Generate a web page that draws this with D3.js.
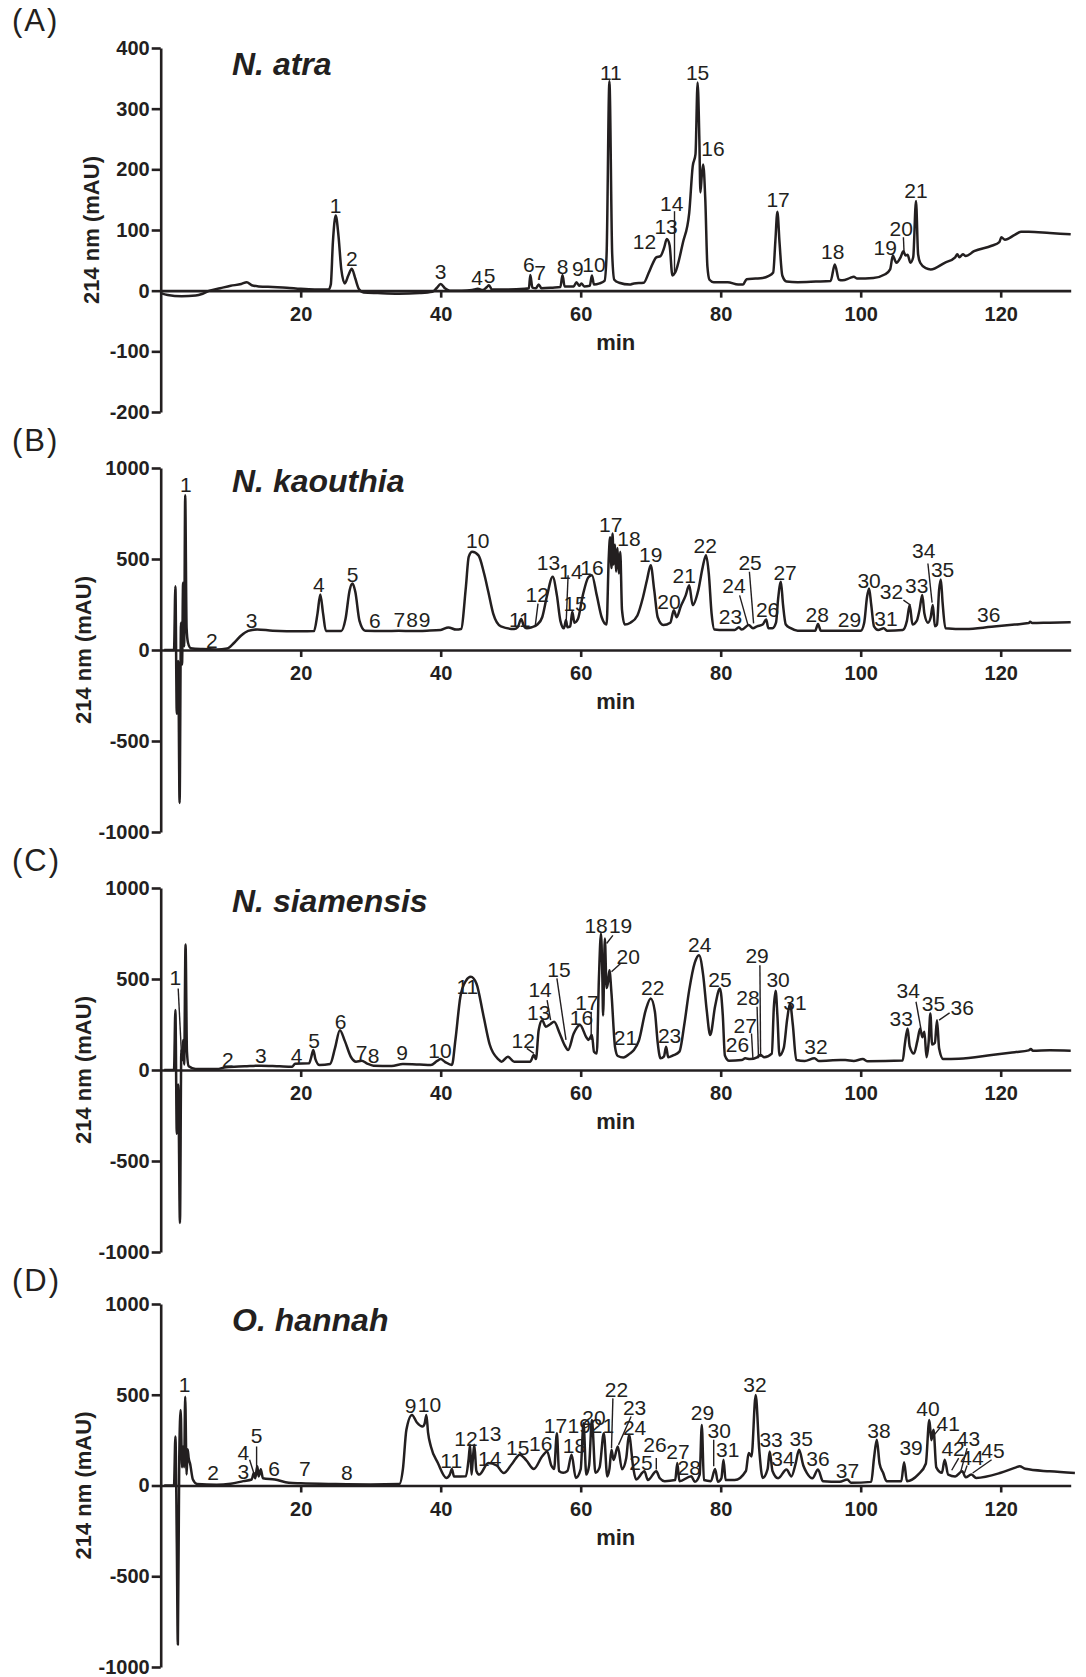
<!DOCTYPE html>
<meta charset="utf-8">
<style>
body { margin: 0; background: #fff; }
svg { display: block; font-family: "Liberation Sans", Arial, sans-serif; }
.axis text { font-weight: bold; font-size: 20px; fill: #231f20; }
.axis line, .axis path { stroke: #231f20; stroke-width: 2.6px; }
.trace { fill: none; stroke: #231f20; stroke-width: 2.5px; stroke-linejoin: round; }
.pk { font-size: 21px; fill: #231f20; text-anchor: middle; }
.lead { stroke: #231f20; stroke-width: 1.4px; }
.title { font-size: 32px; font-weight: bold; font-style: italic; fill: #231f20; }
.ylab, .xlab { font-size: 22px; font-weight: bold; fill: #231f20; text-anchor: middle; }
.letter { font-size: 31px; fill: #231f20; letter-spacing: 2px; }
</style>
<body>
<svg width="1086" height="1677"></svg>
<script src="https://d3js.org/d3.v7.min.js"></script>
<script>
// ---- data (minutes, mAU) ----
var xTicks = [20, 40, 60, 80, 100, 120];
var yTicksA = [-200, -100, 0, 100, 200, 300, 400];
var yTicksBCD = [-1000, -500, 0, 500, 1000];
var letters = ["(A)", "(B)", "(C)", "(D)"];
var species = ["N. atra", "N. kaouthia", "N. siamensis", "O. hannah"];

var traceA = [[0,-4],[1,-7],[3,-9],[5,-8],[6,-5],[7,0],[8.5,4],[10,8],[11.5,11],[12.3,14],[13,9],[14,7],[16,6],[18,5],[20,3],[22,2],[24,2],
 [24.3,10],[24.6,80],[25,124],[25.4,90],[25.8,35],[26.3,12],[26.8,25],[27.3,36],[27.8,20],[28.3,3],[29,-3],[31,-4],[34,-5],[37,-4],[38.8,-2],
 [39.4,4],[40,11],[40.6,4],[41.3,0],[43,0],[44.5,1],[45.3,3],[46,1],[46.6,6],[46.9,9],[47.3,2],[49,2],[52,3],[52.6,4],[52.8,26],[53.1,5],[53.6,4],[54,10],[54.4,4],
 [56,5],[57.1,6],[57.4,26],[57.7,7],[59,7],[59.4,14],[59.8,8],[60.1,12],[60.5,7],[61.3,8],[61.6,25],[61.9,10],[62.7,12],[63.4,16],[63.7,60],[64.1,345],[64.5,60],[64.8,18],
 [65.5,13],[67,10],[67.6,12],[69,13],[69.7,29],[70.3,45],[70.8,55],[71.4,57],[71.9,70],[72.3,85],[72.7,75],[73.1,25],[73.5,30],[74.6,79],[75.5,128],[76,205],[76.4,225],
 [76.7,343],[76.95,250],[77.1,162],[77.3,190],[77.5,208],[77.8,150],[78.1,40],[78.4,18],[79,14],[81,14],[82.5,10],[83.2,10],[83.7,19],[85,20],[86,21],[86.8,24],[87.5,30],
 [87.8,80],[88.1,130],[88.4,80],[88.8,25],[89.4,15],[91,14],[93.6,15],[95.7,16],[96.3,43],[96.9,18],[97.4,17],[98.5,21],[99,23],[99.5,20],[101.8,21],[103.5,27],[104.2,35],
 [104.6,58],[104.9,50],[105.1,46],[105.7,55],[106.1,65],[106.4,58],[106.7,59],[107.1,46],[107.5,55],[107.9,148],[108.2,60],[108.5,46],[109.3,37],[110,35],[112,46],[113.5,55],
 [113.8,60],[114.1,55],[114.6,60],[115,57],[116.2,65],[118.7,74],[119.8,80],[120.1,88],[120.6,84],[122,92],[122.9,97],[124,97],[127,95],[130,93]];

var traceB = [[0.5,0],[1.9,0],[2.1,350],[2.3,-350],[2.5,-60],[2.7,-840],[2.9,150],[3.05,-80],[3.2,370],[3.35,20],[3.5,850],[3.7,120],[3.9,40],[4.3,10],[6,5],[8,3],[9.5,8],
 [10.5,40],[11.5,80],[12.5,105],[13.8,113],[16,106],[20,103],[21.9,104],[22.4,200],[22.8,305],[23.2,200],[23.6,105],[25.8,105],[26.4,170],[27,330],[27.4,365],[27.8,320],
 [28.4,160],[29.2,106],[32,104],[34,106],[36,104],[38,106],[40,110],[41.1,124],[42.2,112],[42.9,115],[43.6,347],[44,512],[44.5,540],[45.4,520],[46.2,420],[46.8,320],
 [47.5,200],[48.6,130],[50.5,115],[51,125],[51.5,170],[51.9,130],[52.3,119],[53,125],[53.8,140],[54.5,180],[55.2,300],[56,402],[56.6,300],[57.1,160],[57.6,119],[57.9,165],
 [58.1,125],[58.5,130],[58.8,210],[59.1,150],[59.6,170],[60.3,300],[61.1,400],[61.6,411],[62.3,300],[63,180],[63.7,140],[64,500],[64.2,620],[64.4,450],[64.55,640],[64.7,470],
 [64.9,580],[65.05,430],[65.25,560],[65.45,420],[65.65,540],[65.9,220],[66.3,140],[67.1,150],[68.1,190],[68.9,290],[69.5,390],[70,466],[70.5,330],[71,180],[71.8,137],
 [72.8,150],[73.3,219],[73.7,180],[74.3,240],[75,300],[75.5,356],[76,247],[76.8,329],[77.4,450],[77.9,521],[78.3,420],[78.7,200],[79.1,113],[80.5,110],[82,110],[82.6,125],
 [83,112],[84,137],[84.6,120],[85.2,130],[86,140],[86.5,168],[86.8,120],[87.4,120],[87.9,150],[88.2,280],[88.6,375],[88.9,250],[89.3,140],[90,120],[91,106],[93.5,106],
 [93.9,143],[94.3,106],[100,106],[100.5,150],[100.9,290],[101.2,338],[101.5,250],[101.9,130],[102.5,110],[103.3,119],[103.8,106],[106,110],[106.6,160],[107,247],[107.4,140],
 [108,160],[108.4,220],[108.8,302],[109.1,200],[109.6,150],[110,180],[110.3,247],[110.6,130],[110.9,140],[111.2,330],[111.45,388],[111.7,260],[112.1,120],[115,115],
 [118.7,128],[122,140],[124,148],[124.2,155],[124.5,148],[127,150],[130,152]];

var traceC = [[0.5,0],[1.9,0],[2.1,330],[2.3,-350],[2.5,-80],[2.75,-840],[2.95,110],[3.05,50],[3.2,165],[3.35,30],[3.55,690],[3.75,100],[4,20],[5,5],[8,5],[9.3,15],[12,20],
 [14.3,24],[17,20],[18.8,18],[19.2,35],[21.2,37],[21.5,70],[21.8,110],[22.1,60],[22.7,27],[24.2,33],[24.9,120],[25.6,219],[26.3,160],[27.2,70],[27.9,46],[28.7,51],[29.5,35],
 [30.4,24],[33,22],[34.6,33],[37,30],[38.6,27],[39.5,50],[40,60],[40.6,45],[41.6,27],[42.1,165],[42.8,400],[43.6,490],[44.3,512],[45.1,475],[46.1,300],[47,140],[48.2,60],
 [48.7,46],[49.6,73],[50.5,45],[52.8,46],[53.3,82],[53.6,60],[54,220],[54.5,274],[55,238],[55.6,250],[56.2,265],[57,201],[57.7,137],[58.2,110],[59,200],[59.9,247],[60.8,180],
 [61.1,165],[61.6,192],[61.9,100],[62.3,90],[62.6,500],[62.9,750],[63.1,500],[63.2,300],[63.45,722],[63.7,450],[63.9,480],[64.1,548],[64.4,420],[64.9,128],[65.3,77],[66.1,69],
 [67,90],[67.6,110],[68.3,160],[69.3,330],[70,393],[70.6,320],[71,150],[71.4,64],[71.9,75],[72.2,128],[72.5,70],[73.2,80],[74.1,101],[74.8,250],[75.5,439],[76.3,590],
 [76.9,631],[77.5,520],[78,329],[78.5,192],[79.2,350],[79.9,448],[80.3,300],[80.6,80],[81.2,51],[83,55],[83.5,64],[84.2,60],[85.2,70],[85.7,82],[86.2,70],[87.3,90],
 [87.6,350],[87.85,435],[88.1,300],[88.4,80],[89,120],[89.5,280],[89.9,366],[90.3,250],[90.8,55],[92,50],[93.4,64],[94,50],[97.1,55],[97.8,55],[99,50],[100.3,60],[101,48],
 [106,52],[106.3,140],[106.7,228],[107,130],[107.6,90],[108.1,160],[108.5,228],[108.8,180],[109.1,210],[109.4,70],[109.7,150],[109.95,311],[110.2,140],[110.6,150],
 [110.9,274],[111.2,120],[111.8,60],[114,62],[118.7,82],[122,98],[124,108],[124.3,115],[124.6,106],[127,108],[130,106]];

var traceD = [[0.5,0],[1.9,0],[2.1,270],[2.3,-314],[2.45,-876],[2.65,150],[2.85,416],[3.05,100],[3.2,215],[3.35,100],[3.5,489],[3.7,60],[3.85,200],[4,150],[4.2,120],
 [4.6,33],[5.2,8],[8,4],[10,10],[11.8,24],[13,33],[13.3,69],[13.5,40],[13.8,106],[14,50],[14.3,90],[14.6,40],[16.3,33],[18.3,15],[20,12],[25,8],[30,6],[34.1,8],[34.6,90],
 [35.1,307],[35.9,389],[36.6,347],[37.4,325],[37.7,340],[37.95,389],[38.2,290],[38.6,215],[39.6,124],[40.8,42],[41.3,60],[41.6,91],[41.9,50],[43.6,51],[44,150],[44.2,224],
 [44.4,60],[44.6,150],[44.8,224],[45.1,80],[45.5,60],[46.8,124],[48,110],[49,69],[50.2,120],[51.3,170],[52.2,140],[53.3,91],[54.5,161],[55.2,188],[55.8,110],[56.2,91],
 [56.6,288],[56.9,80],[57.5,70],[58.1,80],[58.7,170],[59.3,42],[60,90],[60.4,343],[60.8,60],[61.2,110],[61.6,361],[62.1,70],[62.7,100],[63.3,288],[63.8,50],[64.1,90],
 [64.4,197],[64.7,140],[65.3,215],[65.9,90],[66.5,150],[66.9,279],[67.5,100],[67.9,33],[69.1,78],[69.6,30],[70.8,78],[71.3,40],[72,24],[73.5,30],[73.8,124],[74.1,24],
 [75.8,51],[76.3,20],[77,60],[77.3,334],[77.6,30],[78.6,24],[79.2,91],[79.6,20],[80.1,40],[80.4,142],[80.7,30],[82,30],[83.6,80],[84,179],[84.4,160],[85,498],[85.5,200],
 [86,42],[86.7,90],[87,188],[87.4,80],[88.2,40],[89.4,88],[90.1,50],[90.7,120],[91.2,197],[91.8,110],[92.3,70],[93.1,40],[93.9,88],[94.6,24],[97,20],[98.1,33],[98.6,15],
 [101.5,20],[101.9,150],[102.3,252],[102.7,120],[103.2,70],[103.7,24],[105.8,24],[106.2,128],[106.6,24],[108.2,60],[109.3,120],[109.8,361],[110.1,250],[110.4,307],
 [110.8,100],[111.6,70],[112,142],[112.5,60],[113.5,50],[114.5,78],[115,45],[115.8,60],[116.5,42],[120,70],[122.2,100],[122.7,106],[123.5,92],[127,78],[130.6,69]];

// peak labels: [text, minute, mAU of baseline]
var labelsA = [["1",25,128],["2",27.3,40],["3",40,19],["4",45.2,9],["5",47,13],["6",52.6,30],["7",54.2,18],["8",57.4,28],["9",59.6,25],["10",61.9,30],
 ["11",64.3,348],["12",69.1,68],["13",72.2,93],["14",73,132],["15",76.7,348],["16",78.9,222],["17",88.2,138],["18",96,53],["19",103.5,59],["20",105.8,90],["21",107.9,153]];
var labelsB = [["1",3.6,868],["2",7.3,13],["3",13,119],["4",22.6,316],["5",27.4,375],["6",30.6,119],["7",34.1,128],["8",35.9,128],["9",37.7,128],["10",45.3,558],
 ["11",51.3,128],["12",53.8,265],["13",55.4,442],["14",58.6,388],["15",59.2,214],["16",61.6,411],["17",64.3,649],["18",66.9,570],["19",70,484],["20",72.6,228],
 ["21",74.8,366],["22",77.8,534],["23",81.4,143],["24",81.9,311],["25",84.2,439],["26",86.7,183],["27",89.2,384],["28",93.8,155],["29",98.4,128],["30",101.2,338],
 ["31",103.6,133],["32",104.4,280],["33",108,311],["34",109,503],["35",111.7,402],["36",118.3,155]];
var labelsC = [["1",2.1,466],["2",9.6,18],["3",14.3,40],["4",19.4,40],["5",21.9,119],["6",25.7,228],["7",28.7,55],["8",30.4,40],["9",34.5,55],["10",39.9,64],
 ["11",43.8,417],["12",51.8,119],["13",54,274],["14",54.2,402],["15",56.9,512],["16",60.1,247],["17",60.9,329],["18",62.2,753],["19",65.7,753],["20",66.8,581],
 ["21",66.4,137],["22",70.3,411],["23",72.7,146],["24",77,649],["25",79.9,457],["26",82.4,100],["27",83.5,201],["28",83.9,356],["29",85.2,589],["30",88.2,457],
 ["31",90.6,329],["32",93.6,88],["33",105.8,241],["34",106.8,393],["35",110.4,325],["36",114.5,302]];
var labelsD = [["1",3.4,516],["2",7.5,33],["3",11.8,37],["4",11.8,142],["5",13.7,234],["6",16.2,51],["7",20.6,51],["8",26.6,33],["9",35.7,398],["10",38.4,407],
 ["11",41.5,97],["12",43.6,215],["13",47,243],["14",47,106],["15",51,170],["16",54.3,188],["17",56.4,288],["18",59.1,179],["19",59.8,292],["20",61.9,334],
 ["21",63.1,292],["22",65.1,489],["23",67.7,389],["24",67.7,279],["25",68.6,88],["26",70.6,184],["27",73.9,146],["28",75.5,60],["29",77.4,361],["30",79.8,261],
 ["31",81,155],["32",84.9,516],["33",87.2,210],["34",88.9,106],["35",91.5,215],["36",93.9,106],["37",98.1,42],["38",102.6,261],["39",107.2,170],["40",109.6,383],
 ["41",112.5,303],["42",113.2,161],["43",115.4,215],["44",115.9,115],["45",118.9,151]];

// leader lines: [min1, mAU1, min2, mAU2]
var leadersA = [[73.4,131,73.4,29],[106.1,88,106.2,62]];
var leadersB = [[53.9,255,53.5,130],[58.2,411,57.9,128],[82.7,300,83.9,137],[84.1,430,84.7,146],[106.1,274,107.1,247],[109.6,475,110.2,260]];
var leadersC = [[2.5,448,2.95,100],[52.3,119,53.3,91],[55.2,384,55.7,274],[56.6,503,57.9,165],[61.5,320,61.5,165],[64.6,740,63.7,695],[65.7,585,64.4,540],
 [84.4,201,84.6,64],[85.2,347,85.4,64],[85.6,576,85.7,73],[107.9,375,108.6,228],[112.7,314,111.2,274]];
var leadersD = [[12.7,142,13.3,69],[13.7,215,13.7,51],[64.6,480,64.4,206],[67.2,380,65.4,224],[70.8,151,70.8,88],[79,252,79,106],[111.3,316,110.5,279],
 [114,151,113,84],[115.2,206,114.3,78],[115.2,110,114.8,66],[118.7,142,116,69]];

// ---- layout ----
var svg = d3.select("svg");
svg.append("rect").attr("width", 1086).attr("height", 1677).attr("fill", "#fff");

var x = d3.scaleLinear().domain([0, 130]).range([160.7, 1070.7]);

var panels = [
  {top: 48,   bottom: 412,  dom: [-200, 400],   ticks: yTicksA,   trace: traceA, labels: labelsA, leaders: leadersA, ylabX: 99, letterY: 31,   titleY: 75},
  {top: 468,  bottom: 832,  dom: [-1000, 1000], ticks: yTicksBCD, trace: traceB, labels: labelsB, leaders: leadersB, ylabX: 91, letterY: 451,  titleY: 492},
  {top: 888,  bottom: 1252, dom: [-1000, 1000], ticks: yTicksBCD, trace: traceC, labels: labelsC, leaders: leadersC, ylabX: 91, letterY: 871,  titleY: 912},
  {top: 1304, bottom: 1667, dom: [-1000, 1000], ticks: yTicksBCD, trace: traceD, labels: labelsD, leaders: leadersD, ylabX: 91, letterY: 1291, titleY: 1331}
];

panels.forEach(function(p, i) {
  var y = d3.scaleLinear().domain(p.dom).range([p.bottom, p.top]);
  var g = svg.append("g");

  g.append("g")
      .attr("class", "axis")
      .attr("transform", "translate(" + x(0) + ",0)")
      .call(d3.axisLeft(y).tickValues(p.ticks).tickSize(9).tickPadding(2).tickSizeOuter(0)
        .tickFormat(function(d) { return String(d); }));

  g.append("g")
      .attr("class", "axis")
      .attr("transform", "translate(0," + y(0) + ")")
      .call(d3.axisBottom(x).tickValues(xTicks).tickSize(7).tickPadding(9).tickSizeOuter(0));

  var line = d3.line()
      .x(function(d) { return x(d[0]); })
      .y(function(d) { return y(d[1]); })
      .curve(d3.curveMonotoneX);

  g.append("path").attr("class", "trace").attr("d", line(p.trace));

  g.selectAll(".lead").data(p.leaders).enter().append("line")
      .attr("class", "lead")
      .attr("x1", function(d) { return x(d[0]); })
      .attr("y1", function(d) { return y(d[1]); })
      .attr("x2", function(d) { return x(d[2]); })
      .attr("y2", function(d) { return y(d[3]); });

  g.selectAll(".pk").data(p.labels).enter().append("text")
      .attr("class", "pk")
      .attr("x", function(d) { return x(d[1]); })
      .attr("y", function(d) { return y(d[2]); })
      .text(function(d) { return d[0]; });

  g.append("text").attr("class", "xlab")
      .attr("x", (x(0) + x(130)) / 2).attr("y", y(0) + 59).text("min");

  g.append("text").attr("class", "ylab")
      .attr("transform", "translate(" + p.ylabX + "," + (p.top + p.bottom) / 2 + ") rotate(-90)")
      .text("214 nm (mAU)");

  g.append("text").attr("class", "title").attr("x", 232).attr("y", p.titleY).text(species[i]);
  g.append("text").attr("class", "letter").attr("x", 12).attr("y", p.letterY).text(letters[i]);
});
</script>
</body>
